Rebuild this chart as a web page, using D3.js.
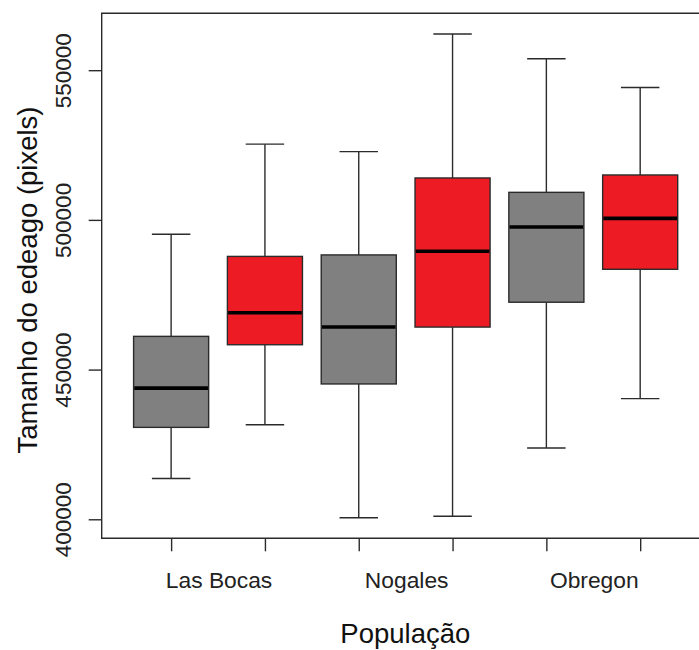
<!DOCTYPE html>
<html>
<head>
<meta charset="utf-8">
<script src="https://cdn.jsdelivr.net/npm/d3@7"></script>
<style>
  html, body { margin: 0; padding: 0; background: #fff; }
  svg { display: block; font-family: "Liberation Sans", Arial, sans-serif; }
</style>
</head>
<body>
<svg id="chart" width="699" height="650"></svg>
<script>
// ---- data ----
const groups = ["Las Bocas", "Las Bocas", "Nogales", "Nogales", "Obregon", "Obregon"];
const boxColors = ["#808080", "#ED1C24", "#808080", "#ED1C24", "#808080", "#ED1C24"];
const whiskerLow  = [413600, 431600, 400500, 401000, 423800, 440300];
const q1          = [430700, 458300, 445200, 464200, 472500, 483500];
const medians     = [443800, 469000, 464200, 489500, 497600, 500500];
const q3          = [461100, 487800, 488300, 514000, 509200, 515000];
const whiskerHigh = [495200, 525300, 522800, 562100, 553800, 544200];
const categoryLabels = ["Las Bocas", "Nogales", "Obregon"];
const categoryPositions = [1.5, 3.5, 5.5];
const yTicks = [400000, 450000, 500000, 550000];
const xTitle = "População";
const yTitle = "Tamanho do edeago (pixels)";

// ---- layout ----
const svg = d3.select("#chart");
const plotLeft = 101.7, plotRight = 709.6, plotTop = 13.3, plotBottom = 538.3;

const x = d3.scaleLinear().domain([0.26, 6.74]).range([plotLeft, plotRight]);
const y = d3.scaleLinear().domain([393650, 569000]).range([plotBottom, plotTop]);

const boxWex = 0.8, stapleWex = 0.41;
const strokeCol = "#2b2b2b";

const boxes = d3.range(groups.length).map(i => ({
  pos: i + 1, lo: whiskerLow[i], q1: q1[i], med: medians[i], q3: q3[i], hi: whiskerHigh[i], color: boxColors[i]
}));

const g = svg.append("g");

// whiskers
g.selectAll(".whisk-up").data(boxes).enter().append("line")
  .attr("x1", d => x(d.pos)).attr("x2", d => x(d.pos))
  .attr("y1", d => y(d.q3)).attr("y2", d => y(d.hi))
  .attr("stroke", strokeCol).attr("stroke-width", 1.4);
g.selectAll(".whisk-dn").data(boxes).enter().append("line")
  .attr("x1", d => x(d.pos)).attr("x2", d => x(d.pos))
  .attr("y1", d => y(d.q1)).attr("y2", d => y(d.lo))
  .attr("stroke", strokeCol).attr("stroke-width", 1.4);
// staples
g.selectAll(".staple-hi").data(boxes).enter().append("line")
  .attr("x1", d => x(d.pos - stapleWex / 2)).attr("x2", d => x(d.pos + stapleWex / 2))
  .attr("y1", d => y(d.hi)).attr("y2", d => y(d.hi))
  .attr("stroke", strokeCol).attr("stroke-width", 1.4);
g.selectAll(".staple-lo").data(boxes).enter().append("line")
  .attr("x1", d => x(d.pos - stapleWex / 2)).attr("x2", d => x(d.pos + stapleWex / 2))
  .attr("y1", d => y(d.lo)).attr("y2", d => y(d.lo))
  .attr("stroke", strokeCol).attr("stroke-width", 1.4);
// boxes
g.selectAll(".box").data(boxes).enter().append("rect")
  .attr("x", d => x(d.pos - boxWex / 2))
  .attr("width", d => x(d.pos + boxWex / 2) - x(d.pos - boxWex / 2))
  .attr("y", d => y(d.q3))
  .attr("height", d => y(d.q1) - y(d.q3))
  .attr("fill", d => d.color)
  .attr("stroke", strokeCol).attr("stroke-width", 1.4);
// medians
g.selectAll(".median").data(boxes).enter().append("line")
  .attr("x1", d => x(d.pos - boxWex / 2) + 0.7).attr("x2", d => x(d.pos + boxWex / 2) - 0.7)
  .attr("y1", d => y(d.med)).attr("y2", d => y(d.med))
  .attr("stroke", "#000").attr("stroke-width", 3.6);

// plot frame (left, top, bottom; right side lies outside the window)
svg.append("path")
  .attr("d", `M${plotRight},${plotTop}H${plotLeft}V${plotBottom}H${plotRight}`)
  .attr("fill", "none").attr("stroke", strokeCol).attr("stroke-width", 1.4);

// y axis
const yAxis = d3.axisLeft(y).tickValues(yTicks).tickSize(13).tickPadding(0).tickFormat(d3.format("d"));
const ya = svg.append("g").attr("transform", `translate(${plotLeft},0)`).call(yAxis);
ya.select(".domain").remove();
ya.selectAll(".tick line").attr("stroke", strokeCol).attr("stroke-width", 1.4);
ya.selectAll(".tick text")
  .attr("x", 0).attr("dy", null)
  .attr("transform", "translate(-31,0) rotate(-90)")
  .attr("text-anchor", "middle")
  .attr("fill", "#222")
  .style("font-size", "22.5px")
  .style("font-family", "'Liberation Sans', Arial, sans-serif");

// x axis: ticks at each box, labels at group centers
const xAxis = d3.axisBottom(x).tickValues(boxes.map(d => d.pos)).tickSize(13).tickFormat("");
const xa = svg.append("g").attr("transform", `translate(0,${plotBottom})`).call(xAxis);
xa.select(".domain").remove();
xa.selectAll(".tick line").attr("stroke", strokeCol).attr("stroke-width", 1.4);

svg.append("g").selectAll("text").data(categoryLabels).enter().append("text")
  .attr("x", (d, i) => x(categoryPositions[i]) + 1)
  .attr("y", 588)
  .attr("text-anchor", "middle")
  .attr("fill", "#222")
  .style("font-size", "22.8px")
  .text(d => d);

// axis titles
svg.append("text")
  .attr("x", (plotLeft + 699) / 2 + 5).attr("y", 643)
  .attr("text-anchor", "middle").attr("fill", "#111")
  .style("font-size", "27.5px")
  .text(xTitle);

svg.append("text")
  .attr("transform", `translate(37,280) rotate(-90)`)
  .attr("text-anchor", "middle").attr("fill", "#111")
  .style("font-size", "27.5px")
  .text(yTitle);
</script>
</body>
</html>
